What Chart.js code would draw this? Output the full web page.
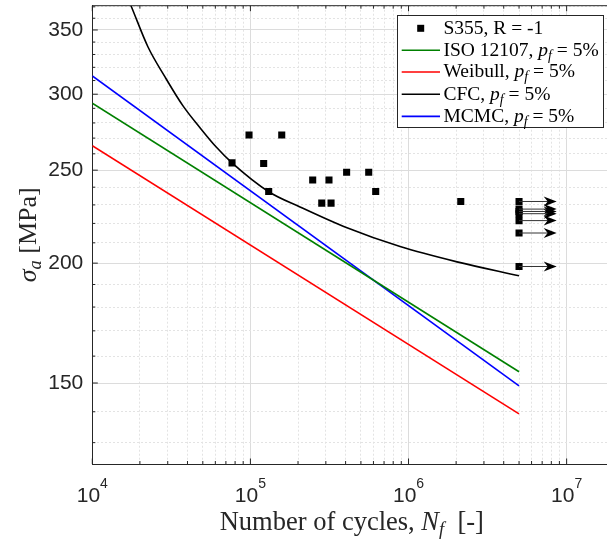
<!DOCTYPE html>
<html><head><meta charset="utf-8">
<script src="https://cdn.jsdelivr.net/npm/chart.js@4/dist/chart.umd.min.js"></script>
<style>
html,body{margin:0;padding:0;overflow:hidden;background:#fff;width:607px;height:544px}
canvas{display:block}
</style>
</head><body><canvas id="c" width="607" height="544"></canvas>
<script>
// ---------- data ----------
const testN      = [76500, 98000, 121300, 130500, 157800, 247700, 282600, 314000, 323600, 406000, 560000, 620000, 2140000];
const testStress = [254.4, 272.0, 254.0, 237.5, 272.0, 244.2, 231.0, 244.2, 231.0, 248.8, 248.8, 237.5, 231.9];
const runoutN      = [5e6, 5e6, 5e6, 5e6, 5e6, 5e6, 5e6];
const runoutStress = [231.9, 227.7, 226.4, 225.2, 221.5, 215.0, 198.4];
const runoutArrowEndN = [8.65e6, 8.65e6, 8.65e6, 8.65e6, 8.65e6, 8.65e6, 8.65e6];
const isoN = [1e4, 5e6];      const isoStress = [293.6, 154.1];
const weibullN = [1e4, 5e6];  const weibullStress = [265.1, 139.3];
const mcmcN = [1e4, 5e6];     const mcmcStress = [313.4, 149.0];
const cfcN      = [15200, 17570, 22510, 28830, 37470, 47990, 60580, 76500, 130500, 205900, 408300, 884000, 2027000, 5000000];
const cfcStress = [392.5, 371.0, 336.0, 312.7, 291.7, 276.8, 264.4, 254.4, 237.4, 228.9, 217.7, 208.1, 200.6, 194.0];
const xTickExponents = [4, 5, 6, 7];
const xGridValues = [1e4,2e4,3e4,4e4,5e4,6e4,7e4,8e4,9e4,1e5,2e5,3e5,4e5,5e5,6e5,7e5,8e5,9e5,1e6,2e6,3e6,4e6,5e6,6e6,7e6,8e6,9e6,1e7];
const yTickLabels = [150, 200, 250, 300, 350];
const yGridValues = [130,140,150,160,170,180,190,200,210,220,230,240,250,260,270,280,290,300,310,320,330,340,350,360,370];
const legendLabels = ['S355, R = -1', 'ISO 12107, ', 'Weibull, ', 'CFC, ', 'MCMC, '];

const AX = '#262626';
const SERIF = '"Liberation Serif", "Times New Roman", serif';
const SANS = '"Liberation Sans", Arial, sans-serif';
const pts = (xs, ys) => xs.map((x, i) => ({x: x, y: ys[i]}));
const isMajorX = v => Math.abs(Math.log10(v) - Math.round(Math.log10(v))) < 1e-9;
const isMajorY = v => yTickLabels.includes(Math.round(v));

function rich(ctx, parts, x, y) {
  let w = 0;
  parts.forEach(p => { ctx.font = p.f; p.w = ctx.measureText(p.t).width; w += p.w; });
  let cx = x - w / 2;
  parts.forEach(p => { ctx.font = p.f; ctx.fillText(p.t, cx, y + (p.dy || 0)); cx += p.w; });
}
function richLeft(ctx, parts, x, y) {
  let cx = x;
  parts.forEach(p => { ctx.font = p.f; ctx.fillText(p.t, cx, y + (p.dy || 0)); cx += ctx.measureText(p.t).width; });
}

const custom = {
  id: 'custom',
  afterDatasetsDraw(chart) {
    const ctx = chart.ctx, xs = chart.scales.x, ys = chart.scales.y;
    ctx.save();
    runoutN.forEach((n, i) => {
      const x0 = xs.getPixelForValue(n), x1 = xs.getPixelForValue(runoutArrowEndN[i]);
      const y = ys.getPixelForValue(runoutStress[i]);
      ctx.strokeStyle = '#333'; ctx.lineWidth = 1;
      ctx.beginPath(); ctx.moveTo(x0, y); ctx.lineTo(x1 - 8, y); ctx.stroke();
      ctx.fillStyle = '#000';
      ctx.beginPath(); ctx.moveTo(x1, y); ctx.lineTo(x1 - 13, y - 5); ctx.lineTo(x1 - 9, y); ctx.lineTo(x1 - 13, y + 5); ctx.closePath(); ctx.fill();
    });
    ctx.restore();
  },
  afterDraw(chart) {
    const ctx = chart.ctx, xs = chart.scales.x, ys = chart.scales.y, a = chart.chartArea;
    ctx.save();
    ctx.strokeStyle = AX; ctx.lineWidth = 1;
    ctx.beginPath(); ctx.moveTo(a.left, a.top); ctx.lineTo(a.right, a.top); ctx.stroke();
    ctx.beginPath();
    xGridValues.forEach(v => {
      const px = xs.getPixelForValue(v); const L = isMajorX(v) ? 5.5 : 3;
      ctx.moveTo(px, a.bottom); ctx.lineTo(px, a.bottom - L);
      ctx.moveTo(px, a.top); ctx.lineTo(px, a.top + L);
    });
    yGridValues.forEach(v => {
      const py = ys.getPixelForValue(v); const L = isMajorY(v) ? 5.5 : 3;
      ctx.moveTo(a.left, py); ctx.lineTo(a.left + L, py);
    });
    ctx.stroke();
    // x tick labels 10^n
    ctx.fillStyle = AX; ctx.textBaseline = 'alphabetic'; ctx.textAlign = 'left';
    xTickExponents.forEach(e => {
      const px = xs.getPixelForValue(Math.pow(10, e));
      ctx.font = '21px ' + SANS; const w1 = ctx.measureText('10').width;
      ctx.font = '14px ' + SANS; const w2 = ctx.measureText(String(e)).width;
      const s = px - (w1 + w2) / 2;
      ctx.font = '21px ' + SANS; ctx.fillText('10', s, 501.5);
      ctx.font = '14px ' + SANS; ctx.fillText(String(e), s + w1, 487.5);
    });
    // x axis title
    rich(ctx, [
      {t: 'Number of cycles, ', f: '26.5px ' + SERIF},
      {t: 'N', f: 'italic 26.5px ' + SERIF},
      {t: 'f', f: 'italic 18.5px ' + SERIF, dy: 5},
      {t: '  [-]', f: '26.5px ' + SERIF}
    ], a.left + 259.5, 530);
    // y axis title
    ctx.save();
    ctx.translate(36, (a.top + a.bottom) / 2);
    ctx.rotate(-Math.PI / 2);
    rich(ctx, [
      {t: '\u03c3', f: 'italic 26px ' + SERIF},
      {t: 'a', f: 'italic 18.5px ' + SERIF, dy: 5},
      {t: ' [MPa]', f: '26px ' + SERIF}
    ], 0, 0);
    ctx.restore();
    // legend
    const bx = 397.5, by = 15.5, bw = 206, bh = 112;
    ctx.fillStyle = '#fff'; ctx.fillRect(bx, by, bw, bh);
    ctx.strokeStyle = AX; ctx.lineWidth = 1; ctx.strokeRect(bx, by, bw, bh);
    const rows = [28.3, 50.3, 72.0, 94.3, 116.4];
    const ds = chart.data.datasets;
    rows.forEach((ry, i) => {
      const d = ds[i];
      if (i === 0) {
        ctx.fillStyle = '#000'; ctx.fillRect(420.7 - 3.5, ry - 3.5, 7, 7);
      } else {
        ctx.strokeStyle = d.borderColor; ctx.lineWidth = 1.6;
        ctx.beginPath(); ctx.moveTo(401.7, ry); ctx.lineTo(440, ry); ctx.stroke();
      }
      ctx.fillStyle = '#000';
      const parts = [{t: legendLabels[i], f: '19.5px ' + SERIF}];
      if (i > 0) {
        parts.push({t: 'p', f: 'italic 19.5px ' + SERIF});
        parts.push({t: 'f', f: 'italic 14px ' + SERIF, dy: 4});
        parts.push({t: ' = 5%', f: '19.5px ' + SERIF});
      }
      richLeft(ctx, parts, 443.5, ry + 5.3);
    });
    ctx.restore();
  }
};

new Chart(document.getElementById('c'), {
  type: 'line',
  data: {
    datasets: [
      {type: 'scatter', label: 'S355, R = -1', data: pts(testN.concat(runoutN), testStress.concat(runoutStress)),
       pointStyle: 'rect', pointRadius: 5, pointBackgroundColor: '#000', pointBorderWidth: 0, borderColor: '#000', showLine: false},
      {label: 'ISO 12107, p_f = 5%', data: pts(isoN, isoStress), borderColor: '#008000', borderWidth: 1.6, pointRadius: 0},
      {label: 'Weibull, p_f = 5%', data: pts(weibullN, weibullStress), borderColor: '#ff0000', borderWidth: 1.6, pointRadius: 0},
      {label: 'CFC, p_f = 5%', data: pts(cfcN, cfcStress), borderColor: '#000000', borderWidth: 1.6, pointRadius: 0, cubicInterpolationMode: 'monotone'},
      {label: 'MCMC, p_f = 5%', data: pts(mcmcN, mcmcStress), borderColor: '#0000ff', borderWidth: 1.6, pointRadius: 0}
    ]
  },
  options: {
    responsive: false, animation: false, events: [],
    layout: {autoPadding: false, padding: {top: 5.7, right: 0, left: 0, bottom: 0}},
    plugins: {legend: {display: false}, tooltip: {enabled: false}, title: {display: false}},
    scales: {
      x: {
        type: 'logarithmic', min: 1e4, max: 1.8e7,
        afterBuildTicks: s => { s.ticks = xGridValues.map(v => ({value: v})); },
        afterFit: s => { s.height = 80; s.paddingLeft = 0; s.paddingRight = 0; },
        ticks: {display: false, autoSkip: false},
        grid: {drawTicks: false, tickLength: 0,
               color: c => (c.tick && isMajorX(c.tick.value)) ? '#dcdcdc' : '#e3e3e3', lineWidth: 1},
        border: {color: AX, width: 1, dash: c => (c.tick && isMajorX(c.tick.value)) ? [] : [2, 2]}
      },
      y: {
        type: 'logarithmic', min: 123.5, max: 371,
        afterBuildTicks: s => { s.ticks = yGridValues.map(v => ({value: v})); },
        afterFit: s => { s.width = 92.3; s.paddingTop = 0; s.paddingBottom = 0; },
        ticks: {autoSkip: false, padding: 9, color: AX, font: {family: 'Liberation Sans', size: 21},
                callback: v => yTickLabels.includes(Math.round(v)) ? String(Math.round(v)) : ''},
        grid: {drawTicks: false, tickLength: 0,
               color: c => (c.tick && isMajorY(c.tick.value)) ? '#dcdcdc' : '#e3e3e3', lineWidth: 1},
        border: {color: AX, width: 1, dash: c => (c.tick && isMajorY(c.tick.value)) ? [] : [2, 2]}
      }
    }
  },
  plugins: [custom]
});
</script>
</body></html>
